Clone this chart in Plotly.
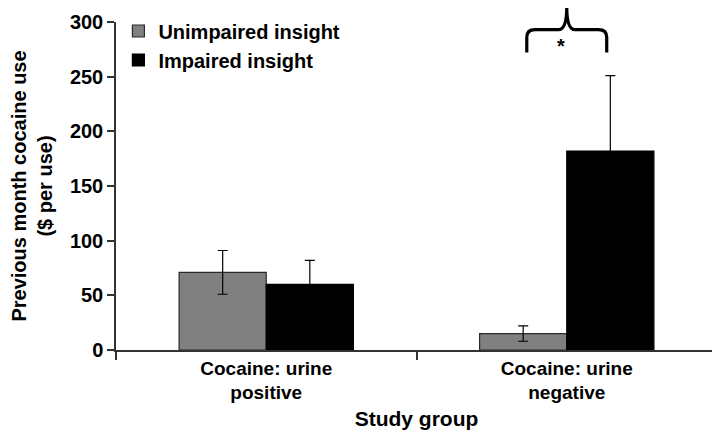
import plotly.graph_objects as go

categories = ["Cocaine: urine<br>positive", "Cocaine: urine<br>negative"]
series_names = ["Unimpaired insight", "Impaired insight"]
unimpaired = [71, 15]
unimpaired_err = [20, 7]
impaired = [60, 182]
impaired_err = [22, 69]
y_ticks = [0, 50, 100, 150, 200, 250, 300]

# significance brace (category index / data units)
brace_cat = 1
brace_half = 0.133
brace_bottom = 272
brace_mid = 293
brace_tip = 314
star_y = 290

FONT = "Liberation Sans"
fig = go.Figure()
fig.add_trace(go.Bar(
    x=categories, y=unimpaired, name="<b>" + series_names[0] + "</b>",
    marker=dict(color="#808080", line=dict(color="#2a2a2a", width=1.2)),
    error_y=dict(type="data", array=unimpaired_err, color="#000", thickness=1.2, width=5),
    legendgroup="a",
))
fig.add_trace(go.Bar(
    x=categories, y=impaired, name="<b>" + series_names[1] + "</b>",
    marker=dict(color="#000000", line=dict(color="#000", width=1.2)),
    error_y=dict(type="data", array=impaired_err, color="#000", thickness=1.2, width=5),
    legendgroup="b",
))

y_max = 300
def px(c):
    return (c + 0.5) / 2.0
def py(v):
    return v / y_max

xm = brace_cat
xl = xm - brace_half
xr = xm + brace_half
rx = 0.027
ry = 7
path = (
    f"M {px(xl)},{py(brace_bottom)} L {px(xl)},{py(brace_mid - ry)} "
    f"Q {px(xl)},{py(brace_mid)} {px(xl + rx)},{py(brace_mid)} "
    f"L {px(xm - rx)},{py(brace_mid)} Q {px(xm)},{py(brace_mid)} {px(xm)},{py(brace_tip)} "
    f"Q {px(xm)},{py(brace_mid)} {px(xm + rx)},{py(brace_mid)} "
    f"L {px(xr - rx)},{py(brace_mid)} Q {px(xr)},{py(brace_mid)} {px(xr)},{py(brace_mid - ry)} "
    f"L {px(xr)},{py(brace_bottom)}"
)
fig.add_shape(type="path", xref="paper", yref="paper", path=path,
              line=dict(color="#000", width=3.2), layer="above")
fig.add_annotation(x=px(xm), y=py(star_y), xref="paper", yref="paper", text="<b>*</b>",
                   showarrow=False, font=dict(size=20, color="#000", family=FONT))

fig.update_layout(
    width=712, height=426,
    margin=dict(l=108, r=3, t=8, b=84),
    paper_bgcolor="white", plot_bgcolor="white",
    barmode="group", bargap=0.42, bargroupgap=0,
    font=dict(family=FONT, color="#000"),
    legend=dict(x=0.004, y=1.032, xanchor="left", yanchor="top",
                font=dict(size=20, family=FONT, color="#000"),
                bgcolor="rgba(0,0,0,0)", tracegroupgap=5, traceorder="normal"),
    xaxis=dict(
        showline=True, linecolor="#333", linewidth=1.5,
        ticks="outside", tickson="boundaries", ticklen=8, tickwidth=1.5, tickcolor="#333",
        tickfont=dict(size=19, family=FONT, color="#000"),
        tickvals=categories, ticktext=["<b>" + c + "</b>" for c in categories],
        title=dict(text="<b>Study group</b>", font=dict(size=21, family=FONT), standoff=9),
    ),
    yaxis=dict(
        range=[0, y_max], tickvals=y_ticks, ticktext=["<b>%d</b>" % t for t in y_ticks],
        showline=True, linecolor="#333", linewidth=1.5,
        ticks="outside", ticklen=7, tickwidth=1.5, tickcolor="#333",
        showgrid=False, zeroline=False,
        tickfont=dict(size=20, family=FONT, color="#000"),
        title=dict(text="<b>Previous month cocaine use<br>($ per use)</b>",
                   font=dict(size=20, family=FONT), standoff=12),
    ),
)
fig.write_html("out.html")
